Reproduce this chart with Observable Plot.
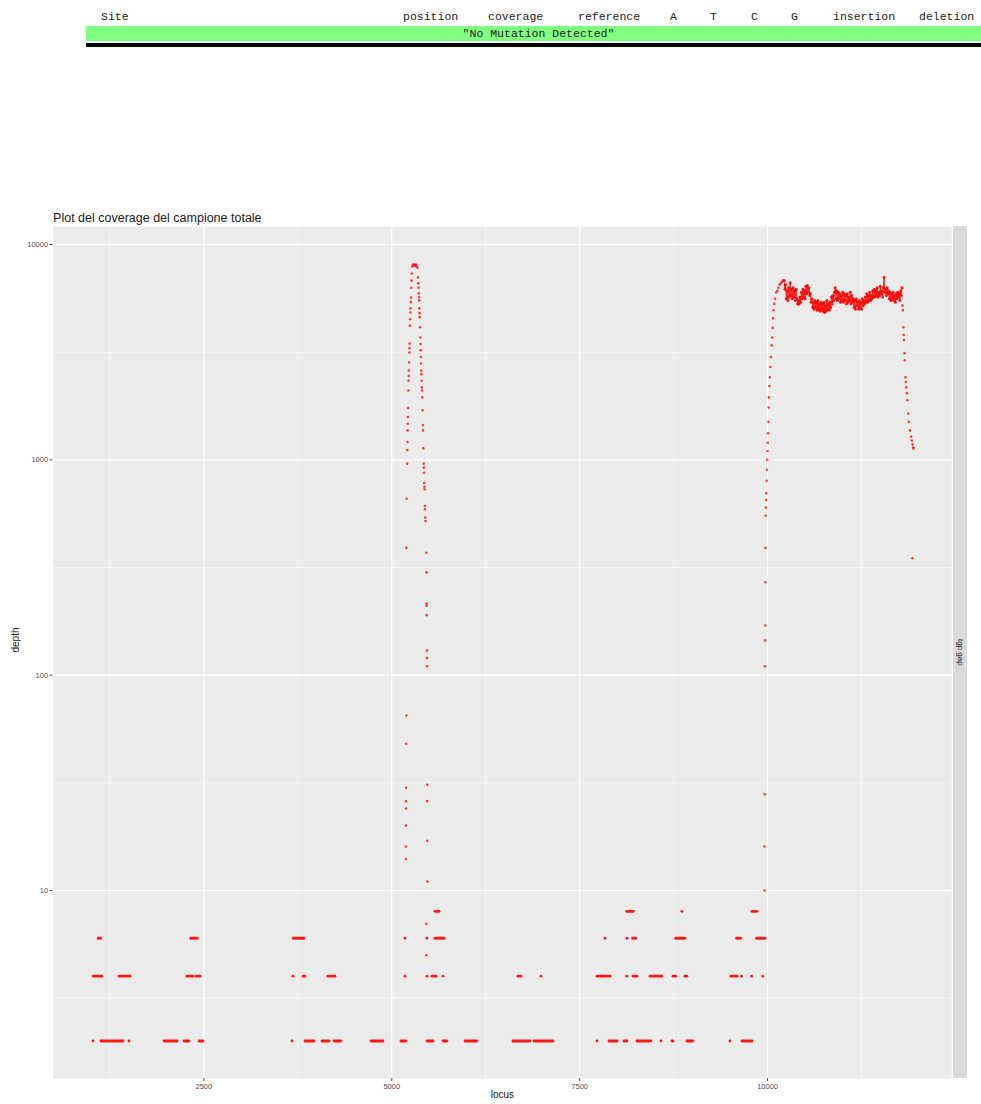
<!DOCTYPE html>
<html>
<head>
<meta charset="utf-8">
<script src="https://cdn.jsdelivr.net/npm/d3@7"></script>
<script src="https://cdn.jsdelivr.net/npm/@observablehq/plot@0.6"></script>
<style>
  html, body { margin: 0; padding: 0; background: #fff; overflow: hidden; width: 981px; height: 1104px; }
  .hdr { position: absolute; top: 10px; font-family: "Liberation Mono", monospace; font-size: 11.5px; color: #222; line-height: 14px; white-space: nowrap; }
  #band { position: absolute; left: 86px; top: 26px; width: 905px; height: 15px; background: #80ff80; font-family: "Liberation Mono", monospace; font-size: 11.5px; color: #222; line-height: 15px; text-align: center; }
  #rule { position: absolute; left: 86px; top: 43px; width: 905px; height: 3.5px; background: #000; }
  #chart { position: absolute; left: 0; top: 200px; }
  #strip { position: absolute; left: 953px; top: 226px; width: 14px; height: 852px; background: #d9d9d9; display: flex; align-items: center; justify-content: center; }
  #strip span { writing-mode: vertical-rl; font-family: "Liberation Sans", Arial, sans-serif; font-size: 8px; color: #1a1a1a; }
</style>
</head>
<body>
<div id="table"></div>
<div id="band"></div>
<div id="rule"></div>
<div id="chart"></div>
<div id="strip"><span id="stripLabel"></span></div>
<script>
// ---------- table content ----------
const tableColumns = ["Site", "position", "coverage", "reference", "A", "T", "C", "G", "insertion", "deletion"];
const tableColumnX = [101, 403, 488, 578, 670, 710, 751, 791, 833, 919];
const tableMessage = "\"No Mutation Detected\"";

// ---------- chart text ----------
const chartTitle = "Plot del coverage del campione totale";
const xLabel = "locus";
const yLabel = "depth";
const facetLabel = "tgp gap";

// ---------- scales / breaks ----------
const xDomain = [494, 12450];
const yDomain = [1.339, 12125];
const xBreaks = [2500, 5000, 7500, 10000];
const xMinorBreaks = [1250, 3750, 6250, 8750, 11250];
const yBreaks = [10, 100, 1000, 10000];
const yMinorBreaks = [3.162, 31.62, 316.2, 3162];

// ---------- data: low-depth runs [start locus, end locus, depth] ----------
const runsDepth2 = [
  [1031,1031],[1138,1430],[1510,1510],[1976,2149],[2242,2309],[2442,2495],
  [3679,3679],[3852,3971],[4078,4171],[4238,4331],[4730,4889],[5129,5196],
  [5475,5555],[5688,5741],[5981,6140],[6619,6845],[6899,7151],[7737,7737],
  [7897,8003],[8096,8136],[8269,8429],[8455,8455],[8588,8588],[8734,8748],
  [8934,9014],[9506,9506],[9666,9799]
];
const runsDepth4 = [
  [1035,1151],[1377,1523],[2282,2362],[2402,2455],[3692,3692],[3825,3852],
  [4158,4251],[5182,5182],[5475,5475],[5541,5595],[5688,5688],[6686,6726],
  [6992,6992],[7737,7910],[8136,8136],[8216,8269],[8442,8601],[8748,8787],
  [8907,8934],[9520,9600],[9662,9662],[9795,9795],[9941,9941]
];
const runsDepth6 = [
  [1102,1133],[2331,2419],[3696,3838],[5182,5182],[5475,5475],[5581,5701],
  [7843,7843],[8136,8136],[8211,8252],[8784,8907],[9595,9648],[9861,9972]
];
const runsDepth8 = [
  [5581,5635],[8132,8220],[8867,8867],[9799,9866]
];

// ---------- data: first coverage peak [locus, depth] ----------
const peakLeft = [
  [5188,14],[5188,16],[5189,20],[5190,24],[5190,26],[5191,30],[5193,48],[5194,65],
  [5195,390],[5198,660],[5205,960],[5207,1110],[5209,1210],[5211,1370],[5213,1470],
  [5215,1580],[5218,1740],[5221,2100],[5224,2330],[5226,2450],[5228,2600],[5231,2830],
  [5234,3150],[5236,3300],[5238,3470],[5242,4200],[5245,4500],[5248,4830],[5251,5050],
  [5254,5400],[5257,5670],[5260,6300],[5263,6800],[5266,7330]
];
const peakTop = [
  [5272,7900],[5282,8050],[5292,8100],[5302,7950],[5312,8000],[5322,8080],[5332,7950],[5342,7800]
];
const peakRight = [
  [5350,7030],[5353,6600],[5356,6300],[5360,5930],[5362,5700],[5365,5500],[5368,5050],
  [5370,4800],[5373,4600],[5376,4130],[5380,3700],[5382,3450],[5385,3230],[5388,3000],
  [5390,2800],[5393,2600],[5395,2500],[5398,2330],[5400,2170],[5403,2100],[5406,1950],
  [5410,1700],[5414,1450],[5416,1370],[5420,1130],[5425,960],[5428,920],[5430,870],
  [5432,780],[5435,750],[5437,730],[5440,610],[5442,590],[5445,540],[5448,520],
  [5460,370],[5462,300],[5463,215],[5464,210],[5466,190],[5468,130],[5469,120],
  [5470,110],[5472,31],[5470,26],[5473,17],[5474,11],[5460,7],[5460,5]
];

// ---------- data: second region (rise, plateau, fall) ----------
const riseSecond = [
  [9959,10],[9959,16],[9962,28],[9965,110],[9966,145],[9968,170],[9970,270],[9972,390],
  [9975,550],[9978,600],[9981,650],[9984,700],[9988,800],[9992,900],[9996,1000],
  [9999,1100],[10003,1200],[10006,1330],[10012,1500],[10015,1750],[10018,1950],
  [10025,2200],[10030,2420],[10036,2700],[10045,3000],[10055,3400],[10062,3700],
  [10068,4100],[10074,4540],[10080,4950],[10090,5300],[10100,5600],[10115,5990],
  [10130,6100],[10145,6300],[10160,6500],[10175,6600],[10190,6700],[10205,6800]
];
const plateauStart = 10220;
const plateauStep = 10;
const plateauDepth = [
  6800,6200,6500,5600,6100,5500,6300,5700,6650,5800,
  6200,5600,6300,5700,6100,5500,6200,5600,5300,5500,
  5300,5700,5400,6000,5600,6200,5700,6100,5600,6400,
  5900,6450,6000,6300,5800,5900,5400,5600,5100,5400,
  5000,5500,5100,5400,4950,5500,5000,5300,4900,5400,
  5000,5300,4900,5400,4830,5200,4900,5500,5000,5300,
  4950,5400,5100,5700,5300,5800,5500,6000,6300,5600,
  6100,5500,6000,5600,5900,5400,5800,5500,6000,5400,
  5900,5500,5800,5300,5900,5400,5700,5500,6000,5300,
  5800,5400,5600,5100,5500,5000,5600,5200,5400,5000,
  5500,5100,5400,5000,5600,5200,5500,5300,5700,5400,
  5900,5400,5800,5500,6000,5500,5800,5600,6100,5700,
  6200,5700,6100,5800,6300,5700,6000,5800,6400,5900,
  6100,5700,6300,7030,6000,6200,5800,6300,5900,6100,
  5600,6000,5500,5900,5600,6000,5500,5800,5400,5900,
  5600,6000,5700,5900,5500,6100,5800,6300
];
const fallSecond = [
  [11795,5200],[11800,4950],[11808,4130],[11812,3800],[11815,3600],[11822,3130],
  [11826,2900],[11835,2420],[11840,2300],[11845,2170],[11855,2040],[11860,1890],
  [11872,1640],[11880,1500],[11895,1370],[11910,1280],[11920,1230],[11930,1180],
  [11938,1140],[11941,1130],[11928,349]
];

// ---------- build tables for the library ----------
const runs = [
  ...runsDepth2.map(([s, e]) => ({start: s, end: e, depth: 2})),
  ...runsDepth4.map(([s, e]) => ({start: s, end: e, depth: 4})),
  ...runsDepth6.map(([s, e]) => ({start: s, end: e, depth: 6})),
  ...runsDepth8.map(([s, e]) => ({start: s, end: e, depth: 8}))
];
const plateau = plateauDepth.map((d, i) => ({locus: plateauStart + i * plateauStep, depth: d}));
const points = [
  ...peakLeft, ...peakTop, ...peakRight, ...riseSecond, ...fallSecond
].map(([locus, depth]) => ({locus, depth}));

// ---------- table ----------
const tbl = document.getElementById("table");
tableColumns.forEach((c, i) => {
  const s = document.createElement("span");
  s.className = "hdr";
  s.style.left = tableColumnX[i] + "px";
  s.textContent = c;
  tbl.appendChild(s);
});
document.getElementById("band").textContent = tableMessage;
document.getElementById("stripLabel").textContent = facetLabel;

// ---------- chart ----------
const red = "#ff0000";
const chart = Plot.plot({
  width: 981,
  height: 904,
  marginLeft: 52.6,
  marginRight: 29.8,
  marginTop: 26,
  marginBottom: 26,
  style: {background: "transparent", fontFamily: "'Liberation Sans', Arial, sans-serif", overflow: "visible"},
  x: {domain: xDomain},
  y: {type: "log", domain: yDomain},
  marks: [
    Plot.frame({fill: "#ebebeb", stroke: null}),
    Plot.ruleX(xMinorBreaks, {stroke: "#ffffff", strokeWidth: 0.55}),
    Plot.ruleY(yMinorBreaks, {stroke: "#ffffff", strokeWidth: 0.55}),
    Plot.ruleX(xBreaks, {stroke: "#ffffff", strokeWidth: 1.1}),
    Plot.ruleY(yBreaks, {stroke: "#ffffff", strokeWidth: 1.1}),
    Plot.ruleY(runs, {y: "depth", x1: "start", x2: "end", stroke: red, strokeWidth: 2.8, strokeLinecap: "round", strokeOpacity: 0.9}),
    Plot.line(plateau, {x: "locus", y: "depth", stroke: red, strokeWidth: 1, strokeOpacity: 0.85}),
    Plot.dot(plateau, {x: "locus", y: "depth", r: 1.5, fill: red, fillOpacity: 0.9, stroke: null}),
    Plot.dot(points, {x: "locus", y: "depth", r: 1.3, fill: red, fillOpacity: 0.75, stroke: null}),
    Plot.axisX(xBreaks, {tickFormat: d3.format("d"), tickSize: 3, tickPadding: 2, fontSize: 7.5, color: "#4d4d4d", label: null}),
    Plot.axisY(yBreaks, {tickFormat: d3.format("d"), tickSize: 3, tickPadding: 2, fontSize: 7.5, color: "#4d4d4d", label: null}),
    Plot.text([xLabel], {frameAnchor: "bottom", dy: 19, fontSize: 10, fill: "#1a1a1a"}),
    Plot.text([yLabel], {frameAnchor: "left", dx: -37.6, rotate: -90, fontSize: 10, fill: "#1a1a1a"}),
    Plot.text([chartTitle], {frameAnchor: "top-left", dy: -13, textAnchor: "start", fontSize: 12.5, fill: "#1a1a1a"})
  ]
});
document.getElementById("chart").appendChild(chart);
</script>
</body>
</html>
